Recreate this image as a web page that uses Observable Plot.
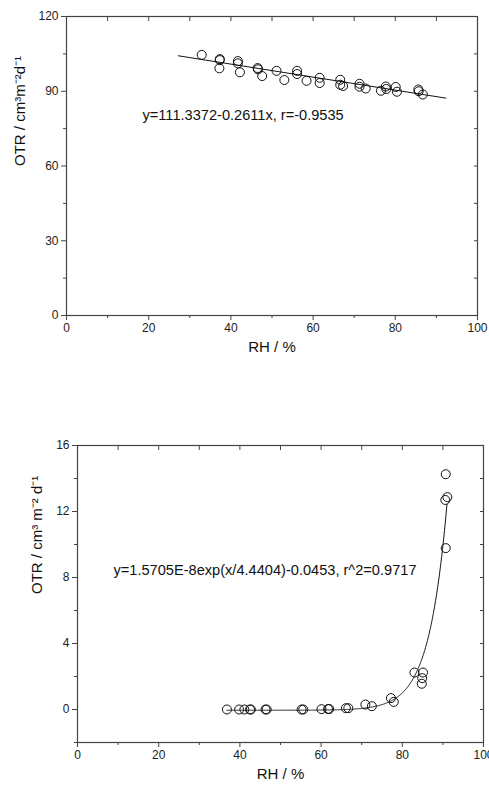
<!DOCTYPE html>
<html>
<head>
<meta charset="utf-8">
<script src="https://cdn.jsdelivr.net/npm/d3@7"></script>
<script src="https://cdn.jsdelivr.net/npm/@observablehq/plot@0.6"></script>
<style>
  html, body { margin: 0; padding: 0; background: #fff; }
  #chart { width: 489px; }
  #chart svg { display: block; }
</style>
</head>
<body>
<div id="chart"></div>
<script>
// ---- Panel A (linear fit) ----
const rhA  = [32.9, 37.3, 37.3, 37.2, 41.7, 41.7, 42.2, 46.5, 46.6, 47.6, 51.1, 53.0, 56.1, 56.1, 58.4, 61.6, 61.6, 66.6, 66.6, 67.3, 71.3, 71.3, 72.8, 76.5, 77.7, 77.8, 80.1, 80.4, 85.6, 85.7, 86.7];
const otrA = [104.6, 102.9, 102.5, 99.2, 102.1, 101.2, 97.6, 99.3, 98.8, 96.1, 98.2, 94.5, 98.2, 96.9, 94.2, 95.4, 93.3, 94.6, 92.6, 92.1, 93.0, 91.8, 91.1, 90.2, 91.9, 90.9, 91.7, 89.8, 90.7, 90.0, 88.7];
const fitA = {a: 111.3372, b: -0.2611};
const fitAx = [27.2, 92.3];
const eqA = "y=111.3372-0.2611x, r=-0.9535";

// ---- Panel B (exponential fit) ----
const rhB  = [36.8, 39.8, 41.1, 42.5, 42.7, 46.3, 46.6, 55.2, 55.6, 60.1, 61.7, 62.0, 66.1, 66.7, 70.9, 72.5, 77.2, 77.9, 83.0, 85.1, 84.9, 84.8, 90.7, 91.1, 90.6, 90.7];
const otrB = [0, 0, 0, 0, 0, 0, 0, 0, 0, 0.02, 0.03, 0.03, 0.08, 0.08, 0.3, 0.2, 0.69, 0.46, 2.24, 2.24, 1.9, 1.56, 14.26, 12.87, 12.7, 9.78];
const fitB = {A: 1.5705e-8, t: 4.4404, y0: -0.0453};
const fitBx = [36.8, 91.0];
const eqB = "y=1.5705E-8exp(x/4.4404)-0.0453, r^2=0.9717";

// ---- Axis ticks / labels ----
const xMajor = [0, 20, 40, 60, 80, 100];
const xMinor = [10, 30, 50, 70, 90];
const yMajorA = [0, 30, 60, 90, 120];
const yMinorA = [15, 45, 75, 105];
const yMajorB = [0, 4, 8, 12, 16];
const yMinorB = [-2, 2, 6, 10, 14];
const xLabel = "RH / %";
const yLabelA = "OTR / cm³m⁻²d⁻¹";
const yLabelB = "OTR / cm³ m⁻² d⁻¹";

const font = "'Liberation Sans', Arial, Helvetica, sans-serif";
const frameColor = "#444";

const ptsA = rhA.map((x, i) => ({x, y: otrA[i]}));
const ptsB = rhB.map((x, i) => ({x, y: otrB[i]}));
const lineA = fitAx.map(x => ({x, y: fitA.a + fitA.b * x}));
const lineB = d3.range(fitBx[0], fitBx[1] + 1e-9, 0.1).map(x => ({x, y: fitB.A * Math.exp(x / fitB.t) + fitB.y0}));

function axes(yMajor, yMinor, xAll, yAll) {
  return [
    Plot.axisX({ticks: xMajor, tickSize: 5, tickPadding: 3, fontSize: 12, label: null, tickFormat: d => d, stroke: frameColor}),
    Plot.axisX({ticks: xMinor, tickSize: 3, label: null, tickFormat: () => "", stroke: frameColor}),
    Plot.axisX({anchor: "top", ticks: xAll, tickSize: -4, label: null, tickFormat: () => "", stroke: frameColor}),
    Plot.axisY({ticks: yMajor, tickSize: 5, tickPadding: 3, fontSize: 12, label: null, tickFormat: d => d, stroke: frameColor}),
    Plot.axisY({ticks: yMinor, tickSize: 3, label: null, tickFormat: () => "", stroke: frameColor}),
    Plot.axisY({anchor: "right", ticks: yAll, tickSize: -4, label: null, tickFormat: () => "", stroke: frameColor}),
    Plot.frame({stroke: frameColor, strokeWidth: 1.2})
  ];
}

const plotA = Plot.plot({
  width: 489, height: 360,
  marginLeft: 66, marginRight: 12, marginTop: 16, marginBottom: 45,
  style: {fontFamily: font, background: "#fff", color: "#222"},
  x: {domain: [0, 100]},
  y: {domain: [0, 120]},
  marks: [
    ...axes(yMajorA, yMinorA, [...xMajor, ...xMinor], [...yMajorA, ...yMinorA]),
    Plot.line(lineA, {x: "x", y: "y", stroke: "#111", strokeWidth: 1}),
    Plot.dot(ptsA, {x: "x", y: "y", r: 4.5, stroke: "#111", fill: "none", strokeWidth: 1}),
    Plot.text([eqA], {frameAnchor: "top-left", dx: 76, dy: 99, textAnchor: "start", lineAnchor: "middle", fontSize: 14.6, fill: "#111"}),
    Plot.text([yLabelA], {frameAnchor: "left", dx: -46, rotate: -90, fontSize: 15, fill: "#111"}),
    Plot.text([xLabel], {frameAnchor: "bottom", dy: 36, fontSize: 15, fill: "#111"})
  ]
});

const plotB = Plot.plot({
  width: 489, height: 426,
  marginLeft: 77, marginRight: 6, marginTop: 85, marginBottom: 44,
  style: {fontFamily: font, background: "#fff", color: "#222"},
  x: {domain: [0, 100]},
  y: {domain: [-2, 16]},
  marks: [
    ...axes(yMajorB, yMinorB, [...xMajor, ...xMinor], [...yMajorB, ...yMinorB]),
    Plot.line(lineB, {x: "x", y: "y", stroke: "#111", strokeWidth: 1, curve: "linear"}),
    Plot.dot(ptsB, {x: "x", y: "y", r: 4.5, stroke: "#111", fill: "none", strokeWidth: 1}),
    Plot.text([eqB], {frameAnchor: "top-left", dx: 36, dy: 125, textAnchor: "start", lineAnchor: "middle", fontSize: 14.6, fill: "#111"}),
    Plot.text([yLabelB], {frameAnchor: "left", dx: -40, rotate: -90, fontSize: 15, fill: "#111"}),
    Plot.text([xLabel], {frameAnchor: "bottom", dy: 36, fontSize: 15, fill: "#111"})
  ]
});

const el = document.getElementById("chart");
el.appendChild(plotA);
el.appendChild(plotB);
</script>
</body>
</html>
